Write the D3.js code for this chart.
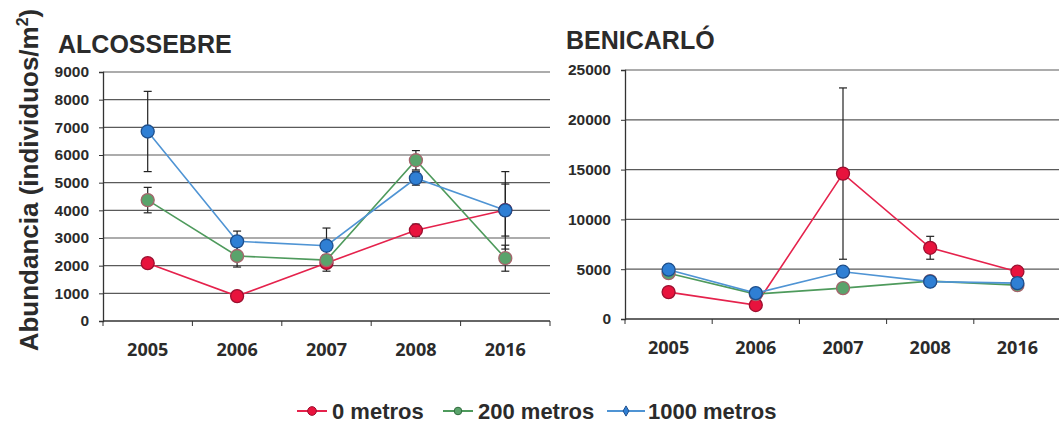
<!DOCTYPE html>
<html>
<head>
<meta charset="utf-8">
<script src="https://cdn.jsdelivr.net/npm/d3@7"></script>
<style>
  body { margin: 0; background: #fff; }
  svg { display: block; }
  text { font-family: "Liberation Sans", Arial, sans-serif; fill: #2b2b2b; }
</style>
</head>
<body>
<div id="container"></div>
<script>
let years = ['2005', '2006', '2007', '2008', '2016']
let seriesNames = ['0 metros', '200 metros', '1000 metros']

// ALCOSSEBRE
let alcRed = [2090, 900, 2100, 3280, 4010]
let alcRedErr = [90, 70, 300, 220, 940]
let alcGreen = [4370, 2350, 2200, 5810, 2270]
let alcGreenErr = [460, 400, 150, 350, 470]
let alcBlue = [6850, 2880, 2720, 5160, 4000]
let alcBlueErr = [1450, 370, 640, 250, 1400]
let alcTicks = [0, 1000, 2000, 3000, 4000, 5000, 6000, 7000, 8000, 9000]

// BENICARLÓ
let benRed = [2700, 1400, 14600, 7150, 4750]
let benRedErr = [150, 150, 8600, 1150, 300]
let benGreen = [4600, 2500, 3100, 3800, 3400]
let benGreenErr = [300, 150, 250, 150, 150]
let benBlue = [4950, 2600, 4750, 3750, 3600]
let benBlueErr = [500, 200, 300, 150, 150]
let benTicks = [0, 5000, 10000, 15000, 20000, 25000]

let lineColors = ['#e5224c', '#4e9a5c', '#4f94d4']
let fillColors = ['#e8133d', '#5aa36b', '#2f7fd4']
let strokeColors = ['#9c1030', '#a5646c', '#1e4f8c']

let svg = d3.select('#container')
            .append('svg')
            .attr('width', 1059)
            .attr('height', 423)

function drawPanel(opt) {
  let x = d3.scaleBand().domain(years).range([opt.x0, opt.x1])
  let y = d3.scaleLinear().domain([0, opt.max]).range([opt.y0, opt.y1])
  let g = svg.append('g')

  // gridlines
  g.selectAll('.grid')
   .data(opt.ticks.filter(d => d > 0))
   .enter()
   .append('line')
   .attr('x1', opt.x0).attr('x2', opt.x1)
   .attr('y1', d => y(d)).attr('y2', d => y(d))
   .attr('stroke', '#5a5a5a')
   .attr('stroke-width', 1.2)

  // y axis
  let ya = g.append('g')
            .attr('transform', 'translate(' + opt.x0 + ',0)')
            .call(d3.axisLeft(y).tickValues(opt.ticks).tickSize(4).tickPadding(10).tickFormat(d3.format('d')))
  ya.select('.domain').attr('stroke', '#333').attr('stroke-width', 1.3)
  ya.selectAll('.tick line').attr('stroke', '#333')
  ya.selectAll('text').style('font-size', '15.5px').style('font-weight', 'bold').attr('fill', '#2b2b2b')

  // x axis
  g.append('line')
   .attr('x1', opt.x0).attr('x2', opt.x1)
   .attr('y1', opt.y0).attr('y2', opt.y0)
   .attr('stroke', '#333').attr('stroke-width', 1.3)
  let bounds = years.map(d => x(d)).concat([opt.x1])
  g.selectAll('.xt')
   .data(bounds)
   .enter()
   .append('line')
   .attr('x1', d => d).attr('x2', d => d)
   .attr('y1', opt.y0).attr('y2', opt.y0 + 5)
   .attr('stroke', '#333')
  g.selectAll('.xl')
   .data(years)
   .enter()
   .append('text')
   .attr('x', d => x(d) + x.bandwidth() / 2)
   .attr('y', opt.y0 + 35)
   .attr('text-anchor', 'middle')
   .style('font-family', '"Open Sans", sans-serif')
   .style('font-size', '18px')
   .style('font-weight', 'bold')
   .text(d => d)

  // title
  g.append('text')
   .attr('x', opt.titleX)
   .attr('y', opt.titleY)
   .style('font-size', '25px')
   .style('font-weight', 'bold')
   .text(opt.title)

  let cx = d => x(d) + x.bandwidth() / 2
  let line = d3.line().x(d => cx(d.year)).y(d => y(d.v))

  opt.series.forEach((s, si) => {
    let pts = years.map((yr, i) => ({ year: yr, v: s.values[i], e: s.errs[i] }))
    g.append('path')
     .datum(pts)
     .attr('d', line)
     .attr('fill', 'none')
     .attr('stroke', lineColors[si])
     .attr('stroke-width', 1.6)
  })

  // error bars
  opt.series.forEach((s, si) => {
    let pts = years.map((yr, i) => ({ year: yr, v: s.values[i], e: s.errs[i] }))
    let eb = g.selectAll('.eb' + si).data(pts).enter().append('g')
    eb.append('line')
      .attr('x1', d => cx(d.year)).attr('x2', d => cx(d.year))
      .attr('y1', d => y(d.v - d.e)).attr('y2', d => y(d.v + d.e))
      .attr('stroke', '#222').attr('stroke-width', 1.2)
    eb.append('line')
      .attr('x1', d => cx(d.year) - 4).attr('x2', d => cx(d.year) + 4)
      .attr('y1', d => y(d.v + d.e)).attr('y2', d => y(d.v + d.e))
      .attr('stroke', '#222').attr('stroke-width', 1.2)
    eb.append('line')
      .attr('x1', d => cx(d.year) - 4).attr('x2', d => cx(d.year) + 4)
      .attr('y1', d => y(d.v - d.e)).attr('y2', d => y(d.v - d.e))
      .attr('stroke', '#222').attr('stroke-width', 1.2)
  })

  // markers
  opt.series.forEach((s, si) => {
    g.selectAll('.m' + si)
     .data(s.values)
     .enter()
     .append('circle')
     .attr('cx', (d, i) => cx(years[i]))
     .attr('cy', d => y(d))
     .attr('r', 6.5)
     .attr('fill', fillColors[si])
     .attr('stroke', strokeColors[si])
     .attr('stroke-width', 1.3)
  })
}

drawPanel({
  x0: 103, x1: 550, y0: 321, y1: 72, max: 9000, ticks: alcTicks,
  title: 'ALCOSSEBRE', titleX: 58, titleY: 53,
  series: [
    { values: alcRed, errs: alcRedErr },
    { values: alcGreen, errs: alcGreenErr },
    { values: alcBlue, errs: alcBlueErr }
  ]
})

drawPanel({
  x0: 625, x1: 1061, y0: 319, y1: 70, max: 25000, ticks: benTicks,
  title: 'BENICARLÓ', titleX: 566, titleY: 49,
  series: [
    { values: benRed, errs: benRedErr },
    { values: benGreen, errs: benGreenErr },
    { values: benBlue, errs: benBlueErr }
  ]
})

// y axis title
let yt = svg.append('text')
            .attr('transform', 'translate(38,180) rotate(-90)')
            .attr('text-anchor', 'middle')
            .style('font-size', '26px')
            .style('font-weight', 'bold')
yt.append('tspan').text('Abundancia (individuos/m')
yt.append('tspan').attr('dy', -10).style('font-size', '16px').text('2')
yt.append('tspan').attr('dy', 10).text(')')

// legend
let legendX = [297, 443, 607]
let legend = svg.selectAll('.leg')
                .data(seriesNames)
                .enter()
                .append('g')
                .attr('transform', (d, i) => 'translate(' + legendX[i] + ',411)')
legend.append('line')
      .attr('x1', 0).attr('x2', (d, i) => i === 2 ? 38 : 30)
      .attr('y1', 0).attr('y2', 0)
      .attr('stroke', (d, i) => lineColors[i])
      .attr('stroke-width', 2)
legend.append('path')
      .attr('d', (d, i) => i === 2 ? d3.symbol(d3.symbolDiamond, 30)() : d3.symbol(d3.symbolCircle, i === 0 ? 60 : 45)())
      .attr('transform', (d, i) => 'translate(' + (i === 2 ? 19 : 15) + ',0)')
      .attr('fill', (d, i) => fillColors[i])
      .attr('stroke', (d, i) => i === 1 ? '#2f6b3c' : strokeColors[i])
legend.append('text')
      .attr('x', (d, i) => i === 2 ? 41 : 35)
      .attr('y', 8)
      .style('font-size', '22px')
      .style('font-weight', 'bold')
      .text(d => d)
</script>
</body>
</html>
